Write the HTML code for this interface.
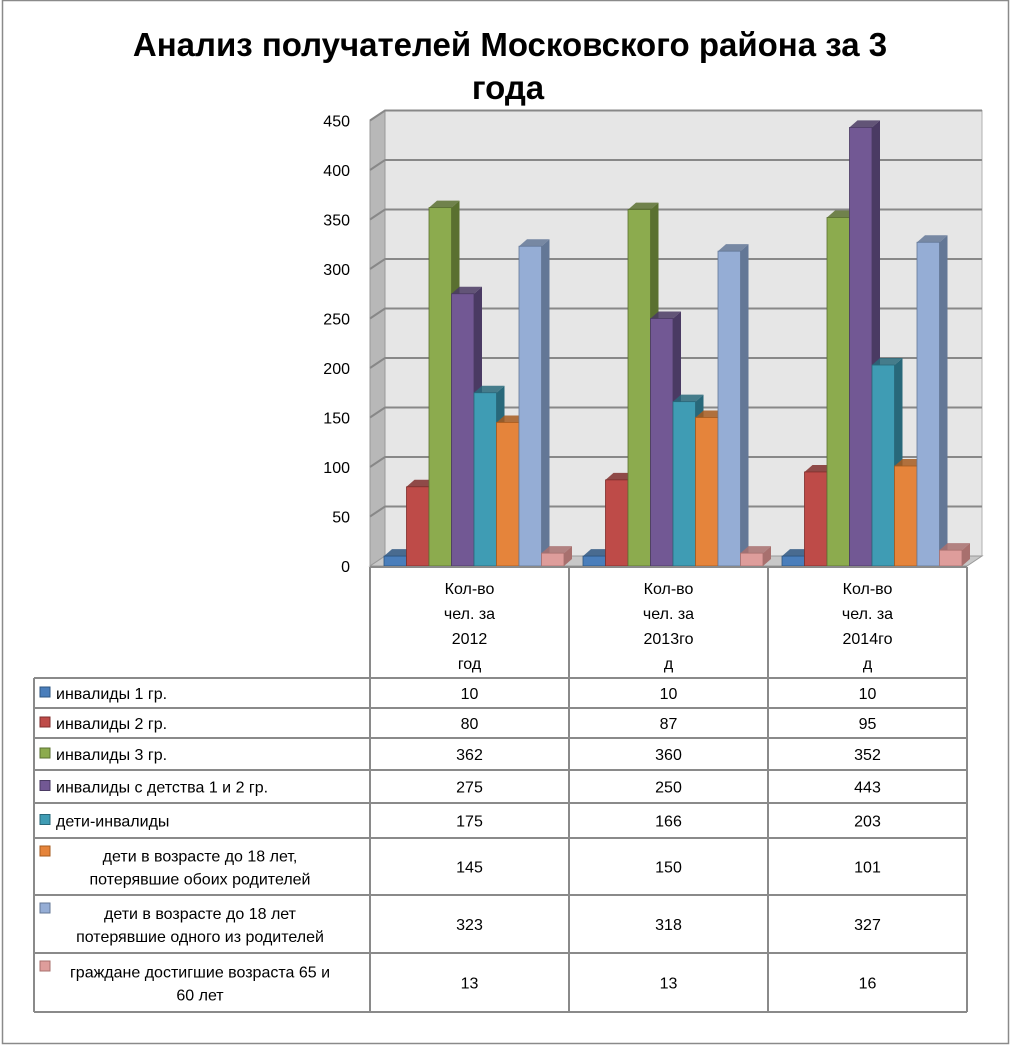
<!DOCTYPE html>
<html><head><meta charset="utf-8">
<style>
html,body{margin:0;padding:0;background:#fff;}
svg{display:block;font-family:"Liberation Sans","DejaVu Sans",sans-serif;}
</style></head>
<body>
<svg id="chart" width="1012" height="1045" viewBox="0 0 1012 1045" xmlns="http://www.w3.org/2000/svg">
<rect x="2.5" y="0.5" width="1006" height="1043" fill="#fff" stroke="#8a8a8a" stroke-width="1.5"/>
<text x="510" y="56" font-size="33" font-weight="bold" text-anchor="middle">Анализ получателей Московского района за 3</text>
<text x="508" y="99" font-size="33" font-weight="bold" text-anchor="middle">года</text>
<g id="plot"></g>
<g id="table"></g>
</svg>
<script>
const categories = ["Кол-во чел. за 2012 год", "Кол-во чел. за 2013год", "Кол-во чел. за 2014год"];
const catLines = [["Кол-во","чел. за","2012","год"],["Кол-во","чел. за","2013го","д"],["Кол-во","чел. за","2014го","д"]];
const seriesNames = ["инвалиды 1 гр.","инвалиды 2 гр.","инвалиды 3 гр.","инвалиды с детства 1 и 2 гр.","дети-инвалиды","дети в возрасте до 18 лет, потерявшие обоих родителей","дети в возрасте до 18 лет потерявшие одного из родителей","граждане достигшие возраста 65 и 60 лет"];
const s1 = [10,10,10];
const s2 = [80,87,95];
const s3 = [362,360,352];
const s4 = [275,250,443];
const s5 = [175,166,203];
const s6 = [145,150,101];
const s7 = [323,318,327];
const s8 = [13,13,16];
const yTicks = [0,50,100,150,200,250,300,350,400,450];
const series = [s1,s2,s3,s4,s5,s6,s7,s8];
const colors = [["#4a7ebb","#2d5580"],["#be4b48","#7f2e2c"],["#8cab4e","#5a7030"],["#725894","#4a3a63"],["#3f9cb4","#28687a"],["#e5843b","#a65b1f"],["#95add5","#637796"],["#de9d9b","#a8706e"]];
const NS="http://www.w3.org/2000/svg";
function el(tag, attrs, parent){const e=document.createElementNS(NS,tag);for(const k in attrs)e.setAttribute(k,attrs[k]);parent.appendChild(e);return e;}
const plot=document.getElementById('plot');
const X0=370, X1=967, Y0=566, K=0.99, DX=15, DY=-10;
function y(v){return Y0 - v*K;}
let w=el('polygon',{points:`${X0+DX},${y(450)+DY} ${982},${y(450)+DY} ${982},${Y0+DY} ${X0+DX},${Y0+DY}`,fill:"#e6e6e6",stroke:"#b0b0b0"},plot);


let sw=el('polygon',{points:`${X0},${y(450)} ${X0+DX},${y(450)+DY} ${X0+DX},${Y0+DY} ${X0},${Y0}`,fill:"#b8b8b8",stroke:"#999"},plot);


let fl=el('polygon',{points:`${X0},${Y0} ${X0+DX},${Y0+DY} 982,${Y0+DY} ${X1},${Y0}`,fill:"#c8c8c8",stroke:"#999"},plot);


yTicks.forEach(t=>{
  if(t>0){
    const g=el('polyline',{points:`${X0},${y(t)} ${X0+DX},${y(t)+DY} 982,${y(t)+DY}`,fill:"none",stroke:"#888","stroke-width":"2"},plot);
    
    
  }
  const tx=el('text',{x:350,y:y(t)+6,"font-size":"16","text-anchor":"end"},plot);
  tx.textContent=t;
  
  
});
const colW=(X1-X0)/3, barW=22.5, bd=8, bdy=-7;
categories.forEach((c,ci)=>{
  const gx=X0+ci*colW+14;
  series.forEach((s,si)=>{
    const x=gx+si*barW, top=y(s[ci]);
    const g=el('g',{},plot);
    
    
    el('rect',{x:x,y:top,width:barW,height:Y0-top,fill:colors[si][0],stroke:colors[si][1],"stroke-width":"0.8"},g);
    el('polygon',{points:`${x+barW},${top} ${x+barW+bd},${top+bdy} ${x+barW+bd},${Y0+bdy} ${x+barW},${Y0}`,fill:colors[si][1]},g);
    el('polygon',{points:`${x},${top} ${x+bd},${top+bdy} ${x+barW+bd},${top+bdy} ${x+barW},${top}`,fill:colors[si][1],opacity:"0.85"},g);
  });
});
const tb=document.getElementById('table');
const TL=34, rows=[678,708,738,770,803,838,895,953,1012];
const cols=[X0,X0+colW,X0+2*colW,X1];
function line(x1,y1,x2,y2,name){const l=el('line',{x1,y1,x2,y2,stroke:"#8a8a8a","stroke-width":"2"},tb);}
line(X0,567,X1,567,'table-header-top');
cols.forEach(cx=>line(cx,567,cx,1012,'table-col-line'));
line(TL,678,TL,1012,'table-left-line');
rows.forEach(r=>line(TL,r,X1,r,'table-row-line'));
catLines.forEach((ls,ci)=>{
  const cx=(cols[ci]+cols[ci+1])/2;
  ls.forEach((t,li)=>{
    const tx=el('text',{x:cx,y:594+li*25,"font-size":"16","text-anchor":"middle"},tb);
    tx.textContent=t;
    
    
  });
});
const labelLines=[["инвалиды 1 гр."],["инвалиды 2 гр."],["инвалиды 3 гр."],["инвалиды с детства 1 и 2 гр."],["дети-инвалиды"],["дети в возрасте до 18 лет,","потерявшие обоих родителей"],["дети в возрасте до 18 лет","потерявшие одного из родителей"],["граждане достигшие возраста 65 и","60 лет"]];
series.forEach((s,si)=>{
  const r0=rows[si], r1=rows[si+1], mid=(r0+r1)/2;
  const lines=labelLines[si];
  const k=el('rect',{x:40,y:(lines.length>1?r0+8:mid-6),width:10,height:10,fill:colors[si][0],stroke:colors[si][1]},tb);
  
  
  if(lines.length===1){
    const t=el('text',{x:56,y:mid+6,"font-size":"16"},tb);t.textContent=lines[0];
    
    
  } else {
    lines.forEach((ln,li)=>{
      const t=el('text',{x:200,y:mid-5+li*23,"font-size":"16","text-anchor":"middle"},tb);t.textContent=ln;
      
      
    });
  }
  s.forEach((v,ci)=>{
    const t=el('text',{x:(cols[ci]+cols[ci+1])/2,y:mid+6,"font-size":"16","text-anchor":"middle"},tb);
    t.textContent=v;
    
    
  });
});
</script>
</body></html>
